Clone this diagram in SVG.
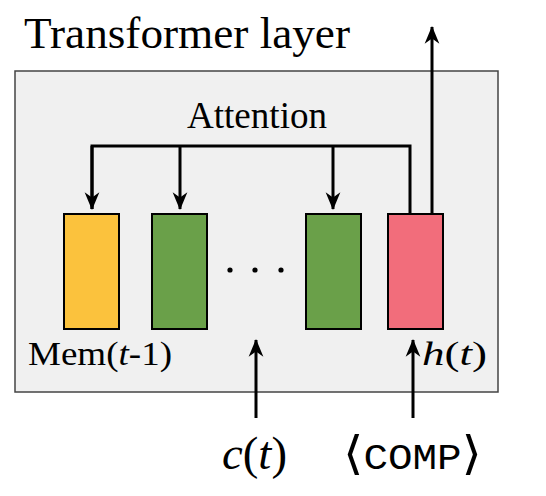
<svg xmlns="http://www.w3.org/2000/svg" width="546" height="496" viewBox="0 0 546 496">
<style>
.t{font-family:"Liberation Serif","DejaVu Serif",serif;fill:#000}
.i{font-style:italic}
.m{font-family:"Liberation Mono","DejaVu Sans Mono",monospace}
.ln{stroke:#000;stroke-width:3;fill:none}
.box{stroke:#000;stroke-width:2}
</style>
<defs>
<marker id="ah" markerUnits="userSpaceOnUse" markerWidth="20" markerHeight="20" viewBox="-17 -8 19 16" refX="0" refY="0" orient="auto">
<path d="M1,0 L-16,-7 L-11,0 L-16,7 Z" fill="#000"/>
</marker>
</defs>
<rect id="layer" x="15" y="71" width="483" height="321" fill="#f0f0f0" stroke="#444" stroke-width="1.5"/>
<text class="t" x="24" y="48" font-size="45" textLength="326" lengthAdjust="spacingAndGlyphs">Transformer layer</text>
<text class="t" x="187" y="128" font-size="37" textLength="140" lengthAdjust="spacingAndGlyphs">Attention</text>
<g id="connectors">
<path class="ln" d="M92,209 V146 H410 V214"/>
<path class="ln" d="M92,146 V209" marker-end="url(#ah)"/>
<path class="ln" d="M180,146 V209" marker-end="url(#ah)"/>
<path class="ln" d="M333,146 V209" marker-end="url(#ah)"/>
<path class="ln" d="M432,214 V27" marker-end="url(#ah)"/>
<path class="ln" d="M256,418 V340" marker-end="url(#ah)"/>
<path class="ln" d="M413,418 V340" marker-end="url(#ah)"/>
</g>
<g id="mem"><rect class="box" x="64" y="214" width="55" height="115" fill="#fbc23d"/></g>
<g id="tok1"><rect class="box" x="152" y="214" width="55" height="115" fill="#6aa049"/></g>
<g id="dots"><circle cx="230" cy="270" r="2.6"/><circle cx="255" cy="270" r="2.6"/><circle cx="281" cy="270" r="2.6"/></g>
<g id="tok2"><rect class="box" x="306" y="214" width="55" height="115" fill="#6aa049"/></g>
<g id="comp"><rect class="box" x="388" y="214" width="55" height="115" fill="#f26d7b"/></g>
<text class="t" x="28" y="365" font-size="33" textLength="144" lengthAdjust="spacingAndGlyphs">Mem(<tspan class="i">t</tspan>-1)</text>
<text class="t" x="422" y="365" font-size="33" textLength="65" lengthAdjust="spacingAndGlyphs"><tspan class="i">h</tspan>(<tspan class="i">t</tspan>)</text>
<text class="t" x="222" y="469" font-size="46" textLength="65" lengthAdjust="spacingAndGlyphs"><tspan class="i">c</tspan>(<tspan class="i">t</tspan>)</text>
<text class="t" x="343" y="469" font-size="46" textLength="139" lengthAdjust="spacingAndGlyphs">⟨<tspan class="m" font-size="36">COMP</tspan>⟩</text>
</svg>
